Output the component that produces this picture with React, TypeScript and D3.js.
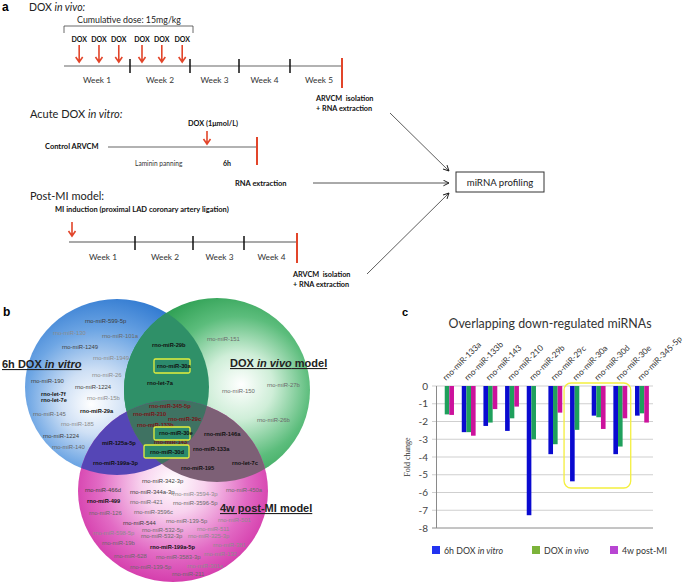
import React from 'react';
import * as d3 from 'd3';

// ---------- Panel c data ----------
const categories = [
  'rno-miR-133a', 'rno-miR-133b', 'rno-miR-143', 'rno-miR-210', 'rno-miR-29b',
  'rno-miR-29c', 'rno-miR-30a', 'rno-miR-30d', 'rno-miR-30e', 'rno-miR-345-5p',
];
const vitroValues = [0, -2.6, -2.25, -2.53, -7.28, -3.84, -5.37, -1.67, -3.84, -1.67];
const vivoValues = [-1.6, -2.6, -2.06, -1.82, -3.0, -3.28, -2.47, -1.76, -3.41, -1.54];
const postMIValues = [-1.63, -2.8, -1.3, -1.16, 0, -1.5, 0, -2.42, -1.82, -2.06];
const yTicks = [0, -1, -2, -3, -4, -5, -6, -7, -8];
const seriesKeys = ['vitro', 'vivo', 'postMI'];
const highlighted = ['rno-miR-30a', 'rno-miR-30e'];

// ---------- Panel a data ----------
const weekBounds = [0, 1, 2, 3, 4, 5];
const weekLabels1 = ['Week 1', 'Week 2', 'Week 3', 'Week 4', 'Week 5'];
const doseWeeks = [0.23, 0.53, 0.83, 1.2, 1.53, 1.87];
const miWeekBounds = [0, 1, 2, 3, 4];
const weekLabels3 = ['Week 1', 'Week 2', 'Week 3', 'Week 4'];

// ---------- Panel b data ----------
// [name, x, y, style]  g=gray, l=light, d=dark, b=bold black, r=bold dark red
const vennLabels: [string, number, number, string][] = [
  ['rno-miR-599-5p', 85, 321, 'd'],
  ['rno-miR-130', 53, 333, 'l'],
  ['rno-miR-101a', 102, 336, 'g'],
  ['rno-miR-1249', 62, 347, 'd'],
  ['rno-miR-1949', 93, 358, 'l'],
  ['rno-miR-26', 92, 375, 'l'],
  ['rno-miR-190', 31, 381, 'd'],
  ['rno-miR-1224', 75, 387, 'd'],
  ['rno-let-7f', 41, 394, 'b'],
  ['rno-let-7e', 41, 400, 'b'],
  ['rno-miR-15b', 87, 398, 'l'],
  ['rno-miR-145', 33, 414, 'g'],
  ['rno-miR-29a', 80, 411, 'b'],
  ['rno-miR-185', 61, 424, 'l'],
  ['rno-miR-1224', 43, 436, 'd'],
  ['rno-miR-140', 52, 447, 'g'],
  ['rno-miR-29b', 152, 345, 'b'],
  ['rno-let-7a', 147, 383, 'b'],
  ['rno-miR-151', 207, 339, 'g'],
  ['rno-miR-150', 222, 391, 'g'],
  ['rno-miR-27b', 267, 385, 'g'],
  ['rno-miR-26b', 257, 420, 'g'],
  ['rno-miR-345-5p', 149, 406, 'r'],
  ['rno-miR-210', 133, 414, 'r'],
  ['rno-miR-29c', 168, 419, 'r'],
  ['rno-miR-133b', 137, 425, 'r'],
  ['rno-miR-143', 154, 442, 'r'],
  ['miR-125a-5p', 102, 443, 'b'],
  ['rno-miR-199a-3p', 93, 463, 'b'],
  ['rno-miR-146a', 204, 434, 'b'],
  ['rno-miR-133a', 193, 449, 'b'],
  ['rno-let-7c', 232, 463, 'b'],
  ['rno-miR-195', 181, 468, 'b'],
  ['rno-miR-342-3p', 142, 481, 'd'],
  ['rno-miR-466d', 85, 490, 'd'],
  ['rno-miR-344a-3p', 130, 492, 'd'],
  ['rno-miR-3594-3p', 173, 494, 'l'],
  ['rno-miR-450a', 226, 490, 'g'],
  ['rno-miR-499', 87, 501, 'b'],
  ['rno-miR-421', 130, 502, 'g'],
  ['rno-miR-3596-5p', 173, 503, 'g'],
  ['rno-miR-126', 89, 513, 'g'],
  ['rno-miR-3596c', 134, 512, 'g'],
  ['rno-miR-544', 123, 523, 'd'],
  ['rno-miR-139-5p', 166, 521, 'g'],
  ['rno-miR-501', 218, 520, 'l'],
  ['rno-miR-598-5p', 93, 533, 'l'],
  ['rno-miR-532-5p', 142, 530, 'g'],
  ['rno-miR-532-3p', 141, 536, 'g'],
  ['rno-miR-511', 197, 529, 'l'],
  ['rno-miR-325-3p', 188, 536, 'l'],
  ['rno-miR-19b', 102, 543, 'g'],
  ['rno-miR-199a-5p', 150, 547, 'b'],
  ['rno-miR-381', 213, 545, 'l'],
  ['rno-miR-628', 114, 556, 'g'],
  ['rno-miR-3583-3p', 156, 557, 'g'],
  ['rno-miR-132', 204, 554, 'l'],
  ['rno-miR-139-5p', 130, 567, 'g'],
  ['rno-miR-301a', 187, 566, 'l'],
  ['rno-miR-211', 172, 574, 'g'],
];
// boxed labels: [name, textX, textY, boxX, boxY, boxW, boxH]
const boxedLabels: [string, number, number, number, number, number, number][] = [
  ['rno-miR-30a', 157, 366, 154, 359, 36, 14],
  ['rno-miR-30e', 159, 433, 154, 427, 36, 13],
  ['rno-miR-30d', 150, 452, 144, 445, 45, 13],
];

const SANS = 'Lato, "Liberation Sans", Arial, sans-serif';
const ARIAL = '"Liberation Sans", Arial, sans-serif';
const RED = '#e2452a';

const styleMap: Record<string, { fill: string; weight: string }> = {
  g: { fill: '#6a6a6a', weight: 'normal' },
  l: { fill: '#8c8c8c', weight: 'normal' },
  d: { fill: '#3e3e3e', weight: 'normal' },
  b: { fill: '#111', weight: 'bold' },
  r: { fill: '#7a1418', weight: 'bold' },
};

function RedArrow({ x, y0, y1 }: { x: number; y0: number; y1: number }) {
  return (
    <path
      d={`M${x},${y0}L${x},${y1}M${x - 3.5},${y1 - 5}L${x},${y1}L${x + 3.5},${y1 - 5}`}
      stroke={RED}
      strokeWidth={1.6}
      fill="none"
    />
  );
}

const pre = { whiteSpace: 'pre' as const };

function PanelA() {
  const t1 = d3.scaleLinear().domain(weekBounds).range([64, 130, 190, 239, 290, 342]);
  const t3 = d3.scaleLinear().domain(miWeekBounds).range([69, 135, 193, 244, 297]);
  return (
    <g fontFamily={SANS}>
      <text x={2} y={11} fontSize={12} fontWeight="bold" fontFamily={ARIAL}>a</text>
      <text x={29} y={11} fontSize={10.5} fill="#222">
        DOX <tspan fontStyle="italic">in vivo:</tspan>
      </text>
      <path d="M64,33L64,26L193,26L193,33" stroke="#444" strokeWidth={0.8} fill="none" />
      <text x={129} y={23} fontSize={8.8} textAnchor="middle" fill="#222">Cumulative dose: 15mg/kg</text>
      {doseWeeks.map((w, i) => (
        <g key={i}>
          <text x={t1(w)} y={42} fontSize={7} fontWeight="bold" textAnchor="middle" fill="#111">DOX</text>
          <RedArrow x={t1(w)} y0={45} y1={62} />
        </g>
      ))}
      <line x1={t1(0)} x2={t1(5)} y1={66} y2={66} stroke="#666" strokeWidth={1.2} />
      {weekBounds.slice(1, 5).map((w) => (
        <line key={w} x1={t1(w)} x2={t1(w)} y1={59} y2={73} stroke="#111" strokeWidth={1.5} />
      ))}
      <line x1={t1(5)} x2={t1(5)} y1={58} y2={88} stroke={RED} strokeWidth={2} />
      {weekLabels1.map((l, i) => (
        <text key={l} x={(t1(i) + t1(i + 1)) / 2 + (i === 4 ? 3 : 0)} y={83} fontSize={8.3} textAnchor="middle" fill="#333">{l}</text>
      ))}
      <text x={316} y={101} fontSize={7.3} fontWeight="bold" fill="#111" style={pre}>ARVCM  isolation</text>
      <text x={316} y={111} fontSize={7.3} fontWeight="bold" fill="#111">+ RNA extraction</text>

      {/* Acute in vitro */}
      <text x={30} y={118} fontSize={11} fill="#222">
        Acute DOX <tspan fontStyle="italic">in vitro:</tspan>
      </text>
      <text x={213} y={126} fontSize={7.3} fontWeight="bold" textAnchor="middle" fill="#111">DOX (1μmol/L)</text>
      <RedArrow x={207} y0={131} y1={144} />
      <text x={45} y={149} fontSize={7.5} fontWeight="bold" fill="#111">Control ARVCM</text>
      <line x1={108} x2={257} y1={147} y2={147} stroke="#666" strokeWidth={1.2} />
      <line x1={257} x2={257} y1={137} y2={165} stroke={RED} strokeWidth={2} />
      <text x={135} y={166} fontSize={6.6} fill="#333">Laminin panning</text>
      <text x={223} y={166} fontSize={7} fontWeight="bold" fill="#111">6h</text>
      <text x={235} y={186} fontSize={7.5} fontWeight="bold" fill="#111">RNA extraction</text>

      {/* Post-MI */}
      <text x={30} y={200} fontSize={11} fill="#222">Post-MI model:</text>
      <text x={55} y={212} fontSize={7.5} fontWeight="bold" fill="#111">MI induction (proximal LAD coronary artery ligation)</text>
      <RedArrow x={72} y0={222} y1={236} />
      <line x1={t3(0)} x2={t3(4)} y1={242} y2={242} stroke="#555" strokeWidth={1.2} />
      {miWeekBounds.slice(1, 4).map((w) => (
        <line key={w} x1={t3(w)} x2={t3(w)} y1={236} y2={250} stroke="#111" strokeWidth={1.5} />
      ))}
      <line x1={t3(4)} x2={t3(4)} y1={233} y2={263} stroke={RED} strokeWidth={2} />
      {weekLabels3.map((l, i) => (
        <text key={l} x={(t3(i) + t3(i + 1)) / 2 + 1} y={260} fontSize={8.3} textAnchor="middle" fill="#333">{l}</text>
      ))}
      <text x={293} y={277} fontSize={7.3} fontWeight="bold" fill="#111" style={pre}>ARVCM  isolation</text>
      <text x={293} y={287} fontSize={7.3} fontWeight="bold" fill="#111">+ RNA extraction</text>

      {/* arrows to profiling */}
      <line x1={390} y1={113} x2={449} y2={171} stroke="#333" strokeWidth={0.8} markerEnd="url(#arrowV)" />
      <line x1={313} y1={183} x2={449} y2={183} stroke="#555" strokeWidth={1} markerEnd="url(#arrowV)" />
      <line x1={367} y1={274} x2={449} y2={193} stroke="#333" strokeWidth={0.8} markerEnd="url(#arrowV)" />
      <rect x={456} y={172} width={88} height={20} fill="white" stroke="#333" strokeWidth={1} />
      <text x={500} y={185.5} fontSize={9.6} textAnchor="middle" fill="#222">miRNA profiling</text>
    </g>
  );
}

function PanelB() {
  const blue = { cx: 117, cy: 387, rx: 92, ry: 88 };
  const green = { cx: 217, cy: 390, rx: 93, ry: 92 };
  const pink = { cx: 173, cy: 491, rx: 95, ry: 91 };
  return (
    <g>
      <defs>
        <radialGradient id="gBlue" cx="0.42" cy="0.55" r="0.6" fx="0.36" fy="0.6">
          <stop offset="0" stopColor="#ffffff" />
          <stop offset="0.3" stopColor="#cfe0f5" />
          <stop offset="0.65" stopColor="#6ea6e4" />
          <stop offset="1" stopColor="#2e78d0" />
        </radialGradient>
        <radialGradient id="gGreen" cx="0.6" cy="0.5" r="0.6" fx="0.63" fy="0.47">
          <stop offset="0" stopColor="#ffffff" />
          <stop offset="0.3" stopColor="#cfeed8" />
          <stop offset="0.65" stopColor="#5cbd7c" />
          <stop offset="1" stopColor="#24994a" />
        </radialGradient>
        <radialGradient id="gPink" cx="0.5" cy="0.47" r="0.6" fx="0.5" fy="0.45">
          <stop offset="0" stopColor="#ffffff" />
          <stop offset="0.28" stopColor="#f8d2ee" />
          <stop offset="0.65" stopColor="#e26ac4" />
          <stop offset="1" stopColor="#cf2aa2" />
        </radialGradient>
        <clipPath id="cBlue"><ellipse {...blue} /></clipPath>
        <clipPath id="cGreen"><ellipse {...green} /></clipPath>
        <clipPath id="cPink"><ellipse {...pink} /></clipPath>
      </defs>
      <text x={3} y={316} fontSize={12} fontWeight="bold" fontFamily={ARIAL}>b</text>
      <ellipse {...blue} fill="url(#gBlue)" />
      <ellipse {...green} fill="url(#gGreen)" />
      <ellipse {...pink} fill="url(#gPink)" />
      {/* overlaps */}
      <g clipPath="url(#cBlue)">
        <ellipse {...green} fill="#2f9068" />
        <ellipse {...pink} fill="#5546b6" />
      </g>
      <g clipPath="url(#cGreen)">
        <ellipse {...pink} fill="#7d6076" />
        <g clipPath="url(#cBlue)">
          <ellipse {...pink} fill="#3f7262" />
        </g>
      </g>
      <g fontFamily={ARIAL}>
        {vennLabels.map(([t, x, y, s], i) => (
          <text key={i} x={x} y={y + 2} fontSize={s === 'b' || s === 'r' ? 5.7 : 5.9}
            fontWeight={styleMap[s].weight} fill={styleMap[s].fill}>{t}</text>
        ))}
        {boxedLabels.map(([t, x, y, bx, by, bw, bh]) => (
          <g key={t}>
            <rect x={bx} y={by} width={bw} height={bh} rx={1.5} fill="#2c8a6c" stroke="#e4ef3c" strokeWidth={1.3} />
            <text x={x} y={y + 2} fontSize={5.8} fontWeight="bold" fill="#111">{t}</text>
          </g>
        ))}
        <text x={2} y={368} fontSize={11} fontWeight="bold" fill="#222" style={{ textDecoration: 'underline' }}>
          6h DOX <tspan fontStyle="italic">in vitro</tspan>
        </text>
        <text x={230} y={367} fontSize={11} fontWeight="bold" fill="#222" style={{ textDecoration: 'underline' }}>
          DOX <tspan fontStyle="italic">in vivo</tspan> model
        </text>
        <text x={220} y={512} fontSize={11} fontWeight="bold" fill="#222" style={{ textDecoration: 'underline' }}>
          4w post-MI model
        </text>
      </g>
    </g>
  );
}

function PanelC() {
  const x0 = d3.scaleBand().domain(categories).range([436, 653]).paddingInner(0.36).paddingOuter(0.19);
  const x1 = d3.scaleBand().domain(seriesKeys).range([0, x0.bandwidth()]);
  const y = d3.scaleLinear().domain([-8, 0]).range([528, 386]);
  const series = [
    { key: 'vitro', values: vitroValues, color: '#0a0ad0' },
    { key: 'vivo', values: vivoValues, color: '#1fa05c' },
    { key: 'postMI', values: postMIValues, color: '#cc129c' },
  ];
  const hx0 = (x0(highlighted[0]) as number) - 6;
  const hx1 = (x0(highlighted[1]) as number) + x0.bandwidth() + 3.5;
  const legend = [
    { label: ['6h DOX ', 'in vitro'], color: '#2233f0', x: 432 },
    { label: ['DOX ', 'in vivo'], color: '#7cb33a', x: 532 },
    { label: ['4w post-MI', ''], color: '#b845d2', x: 610 },
  ];
  return (
    <g fontFamily={SANS}>
      <text x={402} y={316} fontSize={11} fontWeight="bold" fontFamily={ARIAL}>c</text>
      <text x={550} y={328} fontSize={12.4} textAnchor="middle" fill="#333">Overlapping down-regulated miRNAs</text>
      {yTicks.map((t) => (
        <g key={t}>
          <line x1={432} x2={653} y1={y(t)} y2={y(t)} stroke={t === -8 ? '#8a8a8a' : '#cfcfcf'} strokeWidth={1} />
          <text x={428} y={y(t) + 3.5} fontSize={10} textAnchor="end" fill="#444">{t}</text>
        </g>
      ))}
      <line x1={436.5} x2={436.5} y1={y(0)} y2={y(-8)} stroke="#8a8a8a" strokeWidth={1} />
      <text transform={`translate(410,457) rotate(-90)`} fontSize={8} textAnchor="middle"
        fontFamily='"Liberation Serif", serif' fill="#333">Fold change</text>
      {categories.map((c, i) => (
        <g key={c}>
          {series.map((s) => {
            const v = s.values[i];
            return (
              <rect key={s.key} x={(x0(c) as number) + (x1(s.key) as number)} y={y(0)}
                width={x1.bandwidth()} height={y(v) - y(0)} fill={s.color} />
            );
          })}
          <text transform={`translate(${(x0(c) as number) + x0.bandwidth() / 2 - 1},381) rotate(-45)`}
            fontSize={8.2} fill="#333">{c}</text>
        </g>
      ))}
      <rect x={hx0} y={383} width={hx1 - hx0} height={105} rx={7} fill="none" stroke="#f4ef3e" strokeWidth={1.3} />
      {legend.map((l) => (
        <g key={l.x}>
          <rect x={l.x} y={546} width={8} height={8} fill={l.color} />
          <text x={l.x + 12} y={553.5} fontSize={8.8} fill="#333">
            {l.label[0]}<tspan fontStyle="italic">{l.label[1]}</tspan>
          </text>
        </g>
      ))}
    </g>
  );
}

export default function App() {
  return (
    <svg width={685} height={583} viewBox="0 0 685 583"
      style={{ position: 'absolute', left: 0, top: 0, background: 'white' }}>
      <defs>
        <marker id="arrowV" viewBox="0 0 10 10" refX="9" refY="5" markerWidth="7" markerHeight="7"
          orient="auto" markerUnits="userSpaceOnUse">
          <path d="M1,1L9,5L1,9" fill="none" stroke="#222" strokeWidth={1.4} />
        </marker>
      </defs>
      <rect width={685} height={583} fill="white" />
      <PanelA />
      <PanelB />
      <PanelC />
    </svg>
  );
}
